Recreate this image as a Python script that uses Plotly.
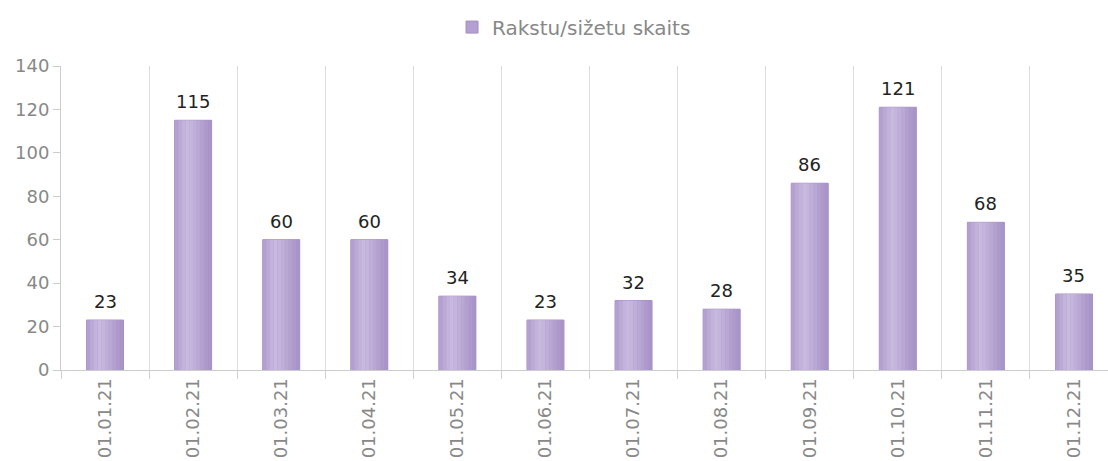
import plotly.graph_objects as go

# Monthly counts of articles/stories
months = ["01.01.21", "01.02.21", "01.03.21", "01.04.21", "01.05.21", "01.06.21",
          "01.07.21", "01.08.21", "01.09.21", "01.10.21", "01.11.21", "01.12.21"]
counts = [23, 115, 60, 60, 34, 23, 32, 28, 86, 121, 68, 35]
series_name = "Rakstu/sižetu skaits"

BAR_W = 0.42
# horizontal shading of each bar: edge -> lighter band -> darker edge
strip_colors = ["#b3a0cf", "#bba9d6", "#c3b3dc", "#c8b9de", "#c5b5dc",
                "#bfaed8", "#b9a7d4", "#b3a0cf", "#ad99cb", "#a994c8"]

fig = go.Figure()

# base bar carries the legend entry
fig.add_trace(go.Bar(
    x=months, y=counts, name=series_name, width=BAR_W,
    marker=dict(color="#b39fd0", line=dict(color="#a38fc4", width=1)),
    hoverinfo="x+y",
))

n = len(strip_colors)
sw = BAR_W / n
for i, c in enumerate(strip_colors):
    fig.add_trace(go.Bar(
        x=months, y=counts, width=sw, offset=-BAR_W / 2 + i * sw,
        marker=dict(color=c, line=dict(width=0)),
        showlegend=False, hoverinfo="skip",
    ))

# value labels above each bar
for m, v in zip(months, counts):
    fig.add_annotation(
        x=m, y=v, text=str(v), showarrow=False,
        yanchor="bottom", yshift=6,
        font=dict(color="#222222", size=18, family="DejaVu Sans"),
    )

fig.update_layout(
    width=1108, height=461,
    margin=dict(l=61, r=0, t=66, b=91),
    paper_bgcolor="white", plot_bgcolor="white",
    barmode="overlay",
    font=dict(family="DejaVu Sans", size=18, color="#888888"),
    showlegend=True,
    legend=dict(orientation="h", x=0.490, xanchor="center", y=1.128, yanchor="middle",
                font=dict(size=20, color="#888888"), itemwidth=30),
    xaxis=dict(
        type="category", range=[-0.5, 11.5 - 10 / 88], automargin=False,
        tickson="boundaries", ticks="outside", ticklen=8, tickcolor="#d0d0d0",
        showgrid=True, gridcolor="#dcdcdc", gridwidth=1,
        showline=True, linecolor="#cccccc", linewidth=1,
        tickangle=-90, tickfont=dict(size=18, color="#888888"),
    ),
    yaxis=dict(
        range=[0, 140], dtick=20, showgrid=False, zeroline=False, automargin=False,
        ticks="outside", ticklen=7, tickcolor="#cccccc",
        showline=True, linecolor="#cccccc", linewidth=1,
        tickfont=dict(size=18, color="#888888"),
    ),
)

fig.write_html("out.html")
